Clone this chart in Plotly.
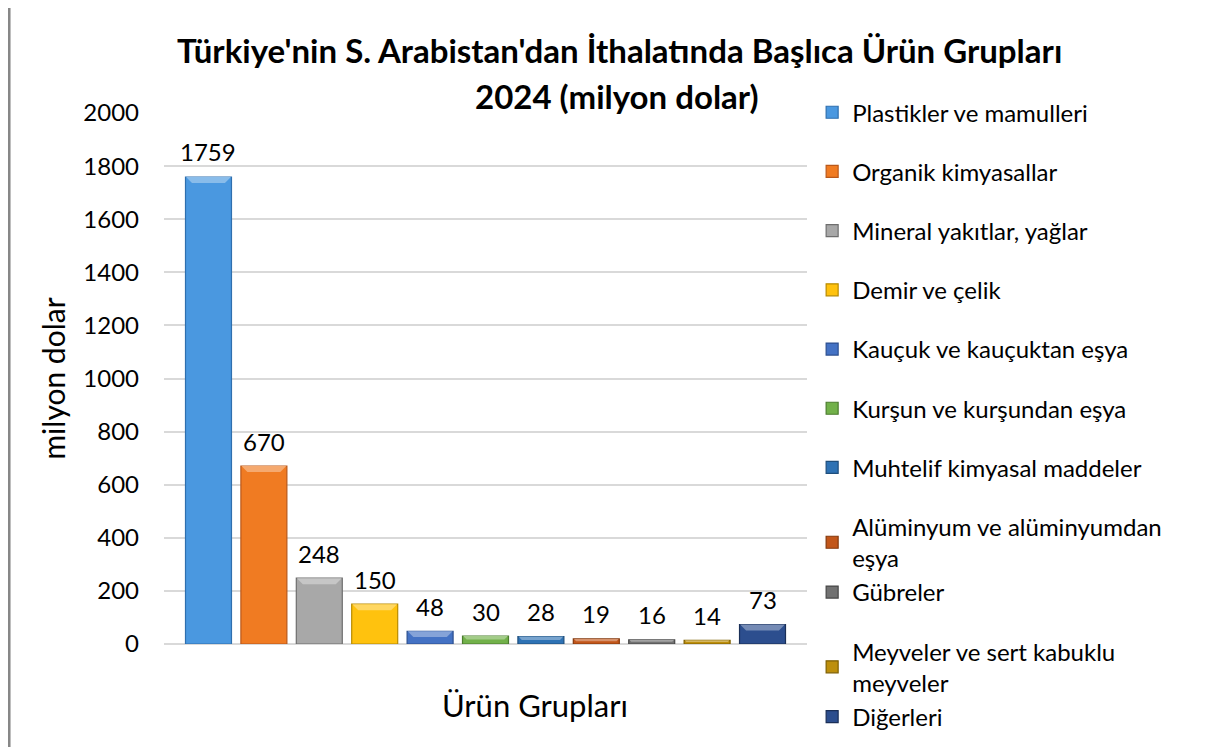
"""Türkiye'nin S. Arabistan'dan ithalatı: başlıca ürün grupları, 2024 (Excel tarzı sütun grafik)."""

import plotly.graph_objects as go

# Ürün grupları (her biri ayrı seri)
GROUPS = [
    "Plastikler ve mamulleri",
    "Organik kimyasallar",
    "Mineral yakıtlar, yağlar",
    "Demir ve çelik",
    "Kauçuk ve kauçuktan eşya",
    "Kurşun ve kurşundan eşya",
    "Muhtelif kimyasal maddeler",
    "Alüminyum ve alüminyumdan<br>eşya",
    "Gübreler",
    "Meyveler ve sert kabuklu<br>meyveler",
    "Diğerleri",
]
VALUES = [1759, 670, 248, 150, 48, 30, 28, 19, 16, 14, 73]  # milyon dolar

FILLS = [
    "#4a98e0", "#f07b22", "#a8a8a8", "#ffc20e", "#4472c4", "#72b14a",
    "#2e72b4", "#c2561a", "#727272", "#bd8f0c", "#2c4e8e",
]
EDGES = [
    "#2f6fae", "#b9581a", "#6e6e6e", "#b88a00", "#2c4f8f", "#4b7c2e",
    "#1e4e7c", "#84380c", "#474747", "#7e5f00", "#1a2f57",
]
# iki satırlık lejant girdisi bir sonrakiyle aynı grupta (Excel'deki sıkı aralık)
LEGEND_SLOT = [0, 1, 2, 3, 4, 5, 6, 7, 7, 8, 8]

Y_TICKS = list(range(0, 2001, 200))
FONT = "Lato, Carlito, Calibri, sans-serif"
BAR_W = 0.83


def _lighter(hex_color: str, t: float = 0.35) -> str:
    """Blend a hex colour toward white (for the bevel highlight)."""
    r, g, b = (int(hex_color[k:k + 2], 16) for k in (1, 3, 5))
    return f"rgb({int(r + (255 - r) * t)},{int(g + (255 - g) * t)},{int(b + (255 - b) * t)})"


fig = go.Figure()
shapes = [
    # Excel grafik alanı çerçevesi
    dict(type="rect", xref="paper", yref="paper",
         x0=-0.241, x1=1.636, y0=-0.35, y1=1.201,
         line=dict(color="#878787", width=3), fillcolor="rgba(0,0,0,0)", layer="below"),
]
for i, (name, val, fill, edge) in enumerate(zip(GROUPS, VALUES, FILLS, EDGES)):
    fig.add_trace(
        go.Bar(
            x=[i], y=[val], name=name, legendgroup=f"g{LEGEND_SLOT[i]}", width=BAR_W,
            marker=dict(color=fill, line=dict(color=edge, width=1.2)),
        )
    )
    # bevel: sütun tepesinde açık renkli yamuk (~6 px derinlik)
    depth = min(22.6, val * 0.45)
    dx = 0.108 * depth / 22.6
    half = BAR_W / 2 - 0.01
    shapes.append(dict(
        type="path", xref="x", yref="y", layer="above", line=dict(width=0),
        fillcolor=_lighter(fill),
        path=(f"M {i - half} {val} L {i + half} {val} "
              f"L {i + half - dx} {val - depth} L {i - half + dx} {val - depth} Z"),
    ))
    # değer etiketi, sütunun üstünde
    fig.add_annotation(
        x=i, y=val, text=str(val), showarrow=False, yanchor="middle", yshift=25,
        font=dict(size=24, family=FONT, color="#000000"),
    )

fig.update_layout(
    width=1211, height=739,
    margin=dict(l=156, r=412, t=105, b=103, autoexpand=False),
    paper_bgcolor="white", plot_bgcolor="white",
    font=dict(family=FONT, color="#000000"),
    barmode="overlay",
    showlegend=True,
    legend=dict(
        x=1.008, xanchor="left", y=1.043, yanchor="top",
        font=dict(size=24, family=FONT), tracegroupgap=25, traceorder="grouped",
        bgcolor="rgba(0,0,0,0)", maxheight=720, groupclick="toggleitem",
    ),
    shapes=shapes,
)
fig.add_annotation(
    text="<b>Türkiye'nin S. Arabistan'dan İthalatında Başlıca Ürün Grupları</b>",
    xref="paper", yref="paper", x=0.709, y=1.119, xanchor="center", yanchor="middle",
    showarrow=False, font=dict(size=33, family=FONT),
)
fig.add_annotation(
    text="<b>2024 (milyon dolar)</b>",
    xref="paper", yref="paper", x=0.7045, y=1.032, xanchor="center", yanchor="middle",
    showarrow=False, font=dict(size=33, family=FONT),
)
fig.add_annotation(
    text="Ürün Grupları", xref="paper", yref="paper", x=0.577, y=-0.115,
    xanchor="center", yanchor="middle", showarrow=False, font=dict(size=31, family=FONT),
)

fig.update_xaxes(range=[-0.803, 10.803], showticklabels=False, showgrid=False,
                 showline=False, zeroline=False, ticks="", automargin=False)
fig.update_yaxes(
    range=[0, 2000], tickvals=Y_TICKS, ticktext=[str(v) for v in Y_TICKS],
    showgrid=True, gridcolor="#d9d9d9", gridwidth=1.5,
    zeroline=True, zerolinecolor="#d9d9d9", zerolinewidth=1.5,
    showline=False, ticks="", ticklabelstandoff=24, automargin=False,
    tickfont=dict(size=24, family=FONT),
    title=dict(text="milyon dolar", font=dict(size=30, family=FONT), standoff=8),
)

fig.write_html("out.html")
